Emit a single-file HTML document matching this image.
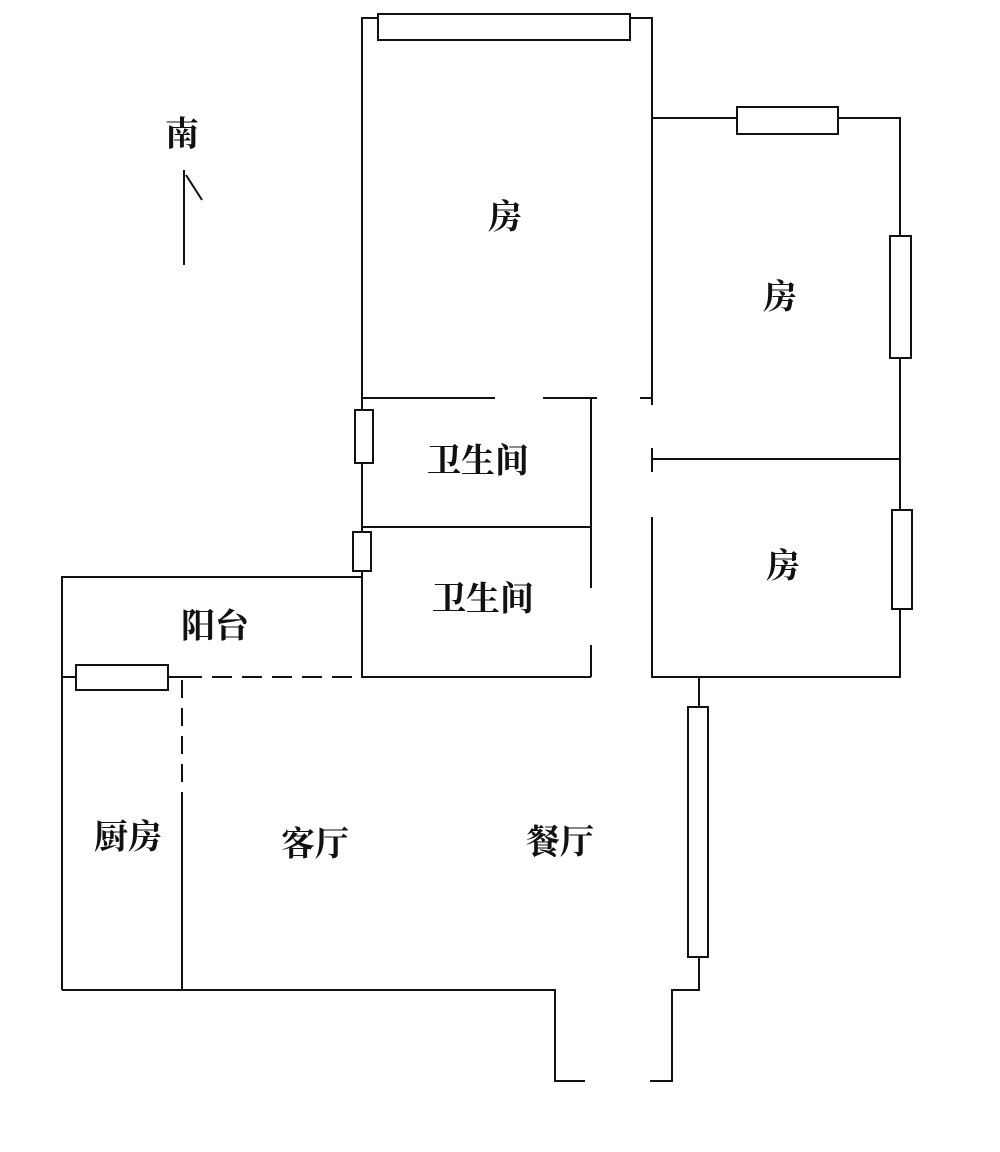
<!DOCTYPE html>
<html><head><meta charset="utf-8"><style>
html,body{margin:0;padding:0;background:#fff;}
svg text{font-family:"Liberation Serif","Noto Serif CJK SC",serif;font-size:34px;fill:#111;text-anchor:middle;dominant-baseline:central;font-weight:bold;}
</style></head><body>
<svg width="1000" height="1147" viewBox="0 0 1000 1147" xmlns="http://www.w3.org/2000/svg">
<g stroke="#111" stroke-width="2" fill="none">
<!-- top room -->
<polyline points="362,678 362,18 652,18 652,405"/>
<rect x="378" y="14" width="252" height="26" fill="#fff"/>
<line x1="362" y1="398" x2="495" y2="398"/>
<line x1="543" y1="398" x2="597" y2="398"/>
<line x1="640" y1="398" x2="652" y2="398"/>
<line x1="591" y1="398" x2="591" y2="588"/>
<line x1="591" y1="645" x2="591" y2="677"/>
<line x1="362" y1="527" x2="591" y2="527"/>
<line x1="362" y1="677" x2="591" y2="677"/>
<rect x="355" y="410" width="18" height="53" fill="#fff"/>
<rect x="353" y="532" width="18" height="39" fill="#fff"/>
<!-- right rooms -->
<polyline points="652,118 900,118 900,677 652,677 652,517"/>
<line x1="652" y1="448" x2="652" y2="472"/>
<line x1="652" y1="459" x2="900" y2="459"/>
<rect x="737" y="107" width="101" height="27" fill="#fff"/>
<rect x="890" y="236" width="21" height="122" fill="#fff"/>
<rect x="892" y="510" width="20" height="99" fill="#fff"/>
<!-- dining right wall -->
<polyline points="699,677 699,990 672,990 672,1081 650,1081"/>
<rect x="688" y="707" width="20" height="250" fill="#fff"/>
<polyline points="62,990 555,990 555,1081 585,1081"/>
<!-- balcony / kitchen -->
<polyline points="62,990 62,577 362,577"/>
<line x1="62" y1="677" x2="182" y2="677"/>
<line x1="182" y1="677" x2="362" y2="677" stroke-dasharray="20,10"/>
<rect x="76" y="665" width="92" height="25" fill="#fff"/>
<line x1="182" y1="680" x2="182" y2="800" stroke-dasharray="18,10"/>
<line x1="182" y1="800" x2="182" y2="990"/>
<!-- compass -->
<line x1="184" y1="170" x2="184" y2="265"/>
<line x1="186" y1="175" x2="202" y2="200"/>
</g>
<text x="182" y="135">南</text>
<text x="505" y="218">房</text>
<text x="780" y="298">房</text>
<text x="783" y="567">房</text>
<text x="478" y="462">卫生间</text>
<text x="483" y="600">卫生间</text>
<text x="215" y="627">阳台</text>
<text x="128" y="838">厨房</text>
<text x="315" y="845">客厅</text>
<text x="560" y="843">餐厅</text>
</svg>
</body></html>
